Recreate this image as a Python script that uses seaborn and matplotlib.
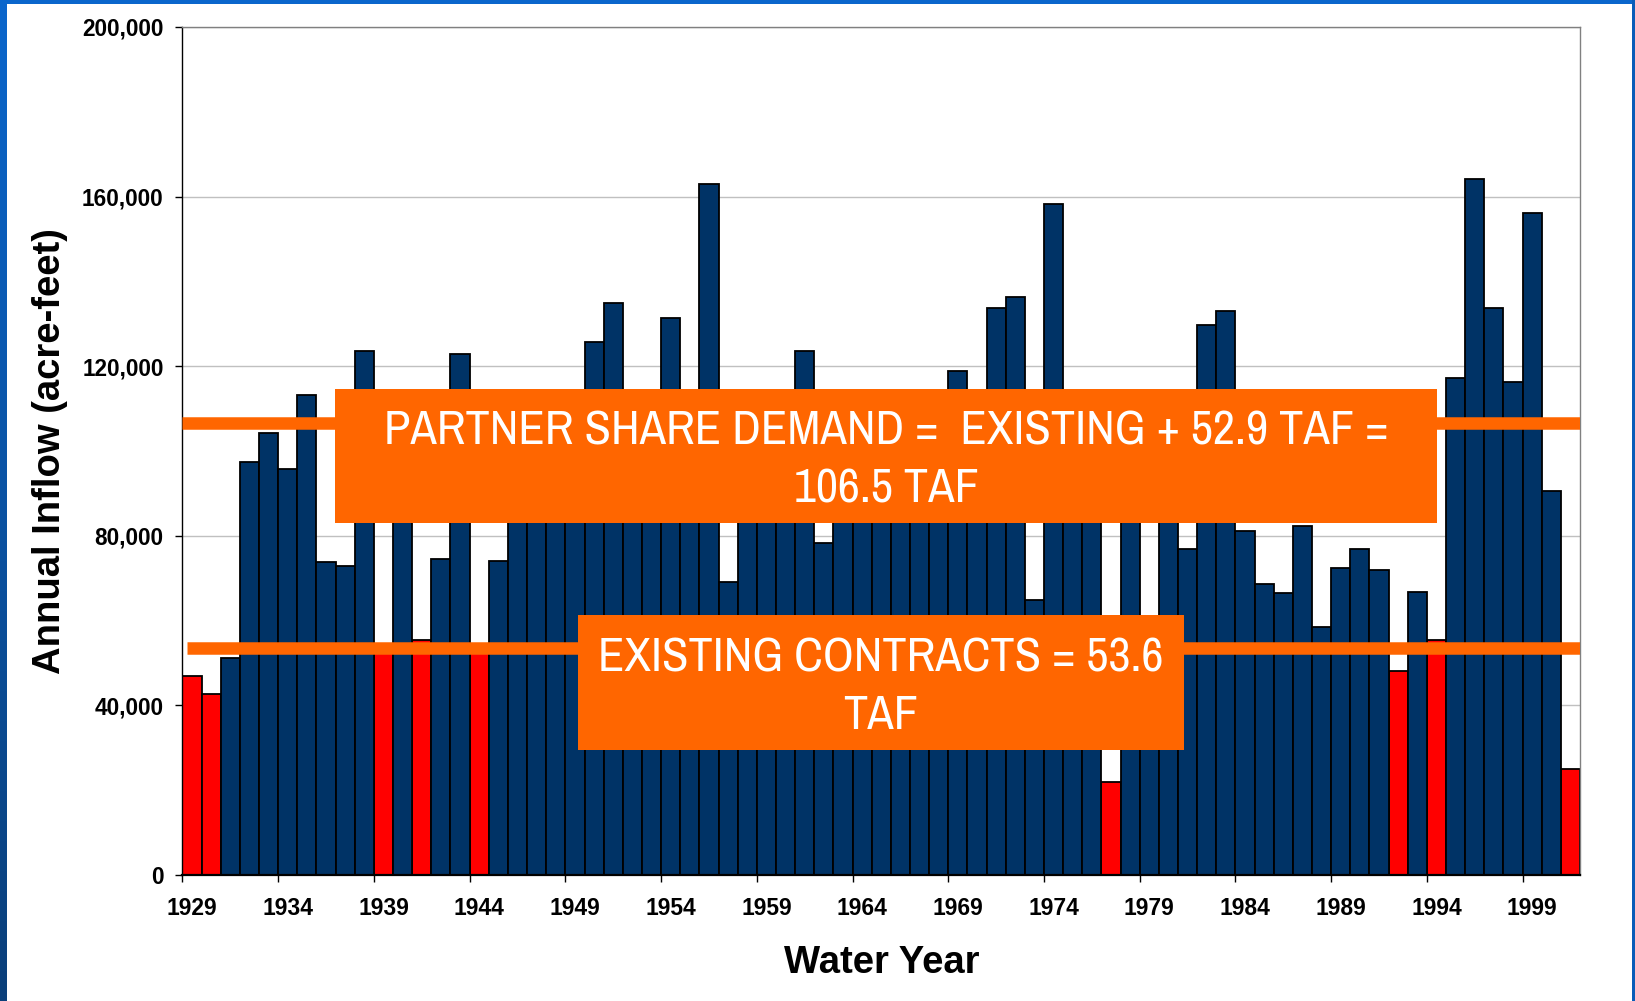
import os
import matplotlib
matplotlib.use("Agg")
import matplotlib.pyplot as plt
import matplotlib.font_manager as fm
import numpy as np
import pandas as pd
import seaborn as sns
from matplotlib.patches import Rectangle
from matplotlib.ticker import FuncFormatter

# annual inflow by water year (acre-feet)
years = list(range(1929, 2002))
inflow = [
    47000, 42700,
    51200, 97400, 104300, 95700, 113300, 73700, 72900, 123600, 53000, 96000,
    55400, 74600, 122800, 53000, 74100, 88000, 92000, 101000, 86000, 125800,
    134900, 104000, 90000, 131400, 110000, 162900, 69200, 97000, 85000, 93000,
    123600, 78300, 100000, 88000, 108000, 84000, 112000, 91000, 118900, 99000,
    133600, 136200, 64800, 158200, 105000, 87000, 22000, 95000, 58000, 103000,
    76800, 129700, 133000, 81100, 68600, 66400, 82400, 58500, 72500, 76800,
    72000, 48200, 66800, 55400, 117200, 164200, 133600, 116300, 156000, 90500,
    24900,
]
dry_years = [1929, 1930, 1939, 1941, 1944, 1977, 1992, 1994, 2001]
tick_years = list(range(1929, 2000, 5))
y_ticks = [0, 40000, 80000, 120000, 160000, 200000]

existing_taf = 53.6
partner_taf = 106.5

NAVY = "#003366"
RED = "#FF0000"
ORANGE = "#FF6600"


def narrow_font():
    """Find a condensed sans face for the call-out boxes, if one is installed."""
    cands = []
    for f in fm.fontManager.ttflist:
        base = os.path.basename(f.fname).lower()
        if f.style != "normal" or f.weight not in (400, "normal", "regular", "book"):
            continue
        if "italic" in base or "oblique" in base or "bold" in base:
            continue
        if "narrow" in f.name.lower() or "narrow" in base:
            cands.append((0, f.fname))
        elif "condensed" in str(f.stretch) or "condensed" in base or "condensed" in f.name.lower():
            if "semi" in base or "semi" in str(f.stretch) or "extra" in base:
                continue
            rank = 1 if "liberation" in base or "roboto" in base else 2
            cands.append((rank, f.fname))
    if cands:
        cands.sort()
        return fm.FontProperties(fname=cands[0][1])
    return fm.FontProperties(family="Liberation Sans")


df = pd.DataFrame({
    "year": years,
    "inflow": inflow,
    "group": ["dry" if y in dry_years else "wet" for y in years],
})

sns.set_theme(style="white")
plt.rcParams["font.family"] = ["Liberation Sans", "DejaVu Sans"]
for k in ("text.color", "axes.labelcolor", "xtick.color", "ytick.color"):
    plt.rcParams[k] = "black"

fig = plt.figure(figsize=(16.35, 10.01), dpi=100)

# slide border strips
edge = fig.add_axes([0, 0, 6 / 1635, 1])
edge.imshow(np.linspace(0, 1, 100).reshape(-1, 1), aspect="auto",
            cmap=matplotlib.colors.LinearSegmentedColormap.from_list("b", ["#0a66cc", "#0b3f7a"]))
edge.set_axis_off()
fig.patches.append(Rectangle((0, 1 - 4 / 1001), 1, 4 / 1001, transform=fig.transFigure,
                             facecolor="#0a66cc", edgecolor="none"))
fig.patches.append(Rectangle((1 - 3 / 1635, 0), 3 / 1635, 1, transform=fig.transFigure,
                             facecolor="#0a5cb8", edgecolor="none"))

ax = fig.add_axes([0.1116, 0.1259, 0.8548, 0.8472])
sns.barplot(data=df, x="year", y="inflow", hue="group",
            palette={"dry": RED, "wet": NAVY}, saturation=1, dodge=False, width=1.0,
            edgecolor="black", linewidth=1.3, legend=False, ax=ax, zorder=2)

ax.set_xlim(-0.5, len(years) - 0.5)
ax.set_ylim(0, 200000)
ax.yaxis.grid(True, color="#C0C0C0", lw=1)
ax.set_axisbelow(True)

# demand / contract lines and their call-out boxes
ax.axhline(partner_taf * 1000, color=ORANGE, lw=9, zorder=3, solid_capstyle="butt")
ax.axhline(existing_taf * 1000, xmin=0.003, color=ORANGE, lw=9, zorder=3, solid_capstyle="butt")

box_fp = narrow_font()
ax.add_patch(Rectangle((0.1091, 0.4151), 0.7886, 0.158, transform=ax.transAxes,
                       facecolor=ORANGE, edgecolor="none", zorder=4))
line1 = f"PARTNER SHARE DEMAND =  EXISTING + {partner_taf - existing_taf:.1f} TAF ="
t1 = ax.text(0.5034, 0.489, f"{line1}\n{partner_taf} TAF",
             transform=ax.transAxes, ha="center", va="center", color="white",
             fontproperties=box_fp, fontsize=34, linespacing=1.42, zorder=5)
ax.add_patch(Rectangle((0.2830, 0.1474), 0.4337, 0.1592, transform=ax.transAxes,
                       facecolor=ORANGE, edgecolor="none", zorder=4))
t2 = ax.text(0.4998, 0.222, f"EXISTING CONTRACTS = {existing_taf}\nTAF",
             transform=ax.transAxes, ha="center", va="center", color="white",
             fontproperties=box_fp, fontsize=34, linespacing=1.42, zorder=5)

# size the call-out text so its first line spans the same width as in the slide
fig.canvas.draw()
probe = ax.text(0, 0, line1, fontproperties=box_fp, fontsize=34)
w = probe.get_window_extent(fig.canvas.get_renderer()).width
probe.remove()
size = min(38, 34 * 1003 / w)
t1.set_fontsize(size)
t2.set_fontsize(size)

# axes, ticks
pos = [years.index(y) for y in tick_years]
ax.set_xticks(pos)
ax.set_xticklabels([str(y) for y in tick_years])
ax.set_xticks([p - 0.5 for p in pos], minor=True)
ax.tick_params(axis="x", which="major", length=0, pad=15.5, labelsize=16.5)
ax.tick_params(axis="x", which="minor", length=5, width=1, color="black", bottom=True)
ax.set_yticks(y_ticks)
ax.yaxis.set_major_formatter(FuncFormatter(lambda v, p: f"{int(v):,}"))
ax.tick_params(axis="y", length=5, width=1, color="black", pad=8.5, labelsize=16.3, left=True)
for lab in ax.get_xticklabels() + ax.get_yticklabels():
    lab.set_fontweight("bold")

ax.set_xlabel("Water Year", fontsize=27.5, fontweight="bold")
ax.set_ylabel("Annual Inflow (acre-feet)", fontsize=27.5, fontweight="bold")
ax.xaxis.set_label_coords(0.5, -0.083)
ax.yaxis.set_label_coords(-0.082, 0.5)

ax.spines["left"].set_color("black")
ax.spines["left"].set_linewidth(1)
ax.spines["bottom"].set_color("black")
ax.spines["bottom"].set_linewidth(1.6)
for s in ("top", "right"):
    ax.spines[s].set_color("#808080")
    ax.spines[s].set_linewidth(1)

fig.savefig("out.png", dpi=100)
